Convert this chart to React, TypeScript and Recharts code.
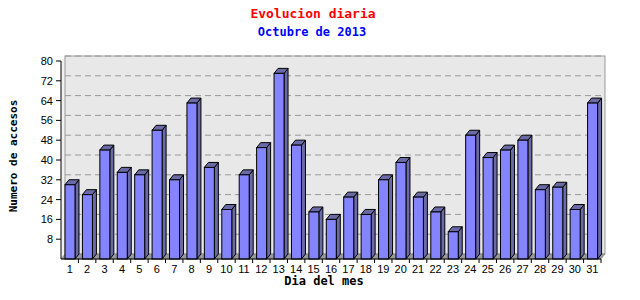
import { Bar, BarChart, CartesianGrid, ReferenceArea, XAxis, YAxis } from "recharts";

const DAYS = [
  "1", "2", "3", "4", "5", "6", "7", "8", "9", "10", "11", "12", "13", "14", "15", "16",
  "17", "18", "19", "20", "21", "22", "23", "24", "25", "26", "27", "28", "29", "30", "31",
];
const VISITS = [
  30, 26, 44, 35, 34, 52, 32, 63, 37, 20, 34, 45, 75, 46, 19, 16,
  25, 18, 32, 39, 25, 19, 11, 50, 41, 44, 48, 28, 29, 20, 63,
];
const Y_TICKS = [8, 16, 24, 32, 40, 48, 56, 64, 72, 80];
const Y_MAX = 80;

const data = DAYS.map((day, i) => ({ day, visits: VISITS[i] }));

// depth of the fake 3d effect
const DX = 4;
const DY = 5;
const FRONT = "#8484ff";
const SIDE = "#6a6aa6";
const WALL = "#e8e8e8";
const MONO = "'DejaVu Sans Mono', 'Liberation Mono', monospace";

function Bar3D(props: any) {
  const { x, y, width, height } = props;
  if (height == null || height <= 0) return null;
  const top = `${x},${y} ${x + DX},${y - DY} ${x + width + DX},${y - DY} ${x + width},${y}`;
  const side = `${x + width},${y} ${x + width + DX},${y - DY} ${x + width + DX},${y + height - DY} ${x + width},${y + height}`;
  return (
    <g>
      <polygon points={side} fill={SIDE} stroke="#000" strokeWidth={1} />
      <polygon points={top} fill={SIDE} stroke="#000" strokeWidth={1} />
      <rect x={x} y={y} width={width} height={height} fill={FRONT} stroke="#000" strokeWidth={1} />
    </g>
  );
}

// left wall, border of the back wall, floor and the tick marks between days
function Frame(props: any) {
  const { x, y, width, height } = props;
  const b = y + height;
  const step = width / DAYS.length;
  const wall = `${x},${y} ${x + DX},${y - DY} ${x + DX},${b - DY} ${x},${b}`;
  const floor = `${x},${b} ${x + width},${b} ${x + width + DX},${b - DY} ${x + DX},${b - DY}`;
  return (
    <g>
      <polygon points={wall} fill="#f0f0f0" stroke="none" />
      <rect x={x + DX} y={y - DY} width={width} height={height} fill="none" stroke="#999" />
      <polygon points={floor} fill="#999999" stroke="#777" strokeWidth={0.5} />
      {DAYS.map((d, i) => (
        <line key={d} x1={x + step * (i + 1)} y1={b} x2={x + step * (i + 1)} y2={b + 4} stroke="#000" />
      ))}
    </g>
  );
}

export default function App() {
  return (
    <div style={{ position: "relative", width: 640, height: 300, background: "#fff" }}>
      <style>{"body{margin:0} .recharts-cartesian-grid{transform:translate(4px,-5px)}"}</style>
      <div style={{ position: "absolute", left: 0, width: 626, top: 6, textAlign: "center", fontFamily: MONO, fontWeight: "bold", fontSize: 13, color: "#ff0000" }}>
        Evolucion diaria
      </div>
      <div style={{ position: "absolute", left: 0, width: 624, top: 25, textAlign: "center", fontFamily: MONO, fontWeight: "bold", fontSize: 12, color: "#0000ff" }}>
        Octubre de 2013
      </div>
      <BarChart width={640} height={300} data={data} margin={{ top: 61, right: 39, bottom: 0, left: 21 }}>
        <CartesianGrid
          vertical={false}
          stroke="#999"
          strokeDasharray="6 4"
          fill={WALL}
          fillOpacity={1}
          horizontalValues={Y_TICKS}
        />
        <ReferenceArea y1={0} y2={Y_MAX} shape={Frame} ifOverflow="visible" />
        <XAxis
          dataKey="day"
          interval={0}
          height={41}
          tickLine={false}
          tickSize={4}
          tickMargin={2}
          axisLine={{ stroke: "#000" }}
          tick={{ fill: "#000", fontSize: 11, fontFamily: "'Liberation Sans', Arial, sans-serif" }}
        />
        <YAxis
          domain={[0, Y_MAX]}
          ticks={Y_TICKS}
          interval={0}
          width={40}
          tickSize={5}
          tickMargin={3}
          axisLine={{ stroke: "#000" }}
          tickLine={{ stroke: "#000" }}
          tick={{ fill: "#000", fontSize: 11, fontFamily: "'Liberation Sans', Arial, sans-serif" }}
        />
        <Bar dataKey="visits" barSize={10} shape={Bar3D} isAnimationActive={false} />
      </BarChart>
      <div style={{ position: "absolute", left: 13, top: 156, transform: "translate(-50%, -50%) rotate(-90deg)", whiteSpace: "nowrap", fontFamily: MONO, fontWeight: "bold", fontSize: 11, color: "#000" }}>
        Numero de accesos
      </div>
      <div style={{ position: "absolute", left: 324, top: 281, transform: "translate(-50%, -50%)", whiteSpace: "nowrap", fontFamily: MONO, fontWeight: "bold", fontSize: 12, color: "#000" }}>
        Dia del mes
      </div>
    </div>
  );
}
